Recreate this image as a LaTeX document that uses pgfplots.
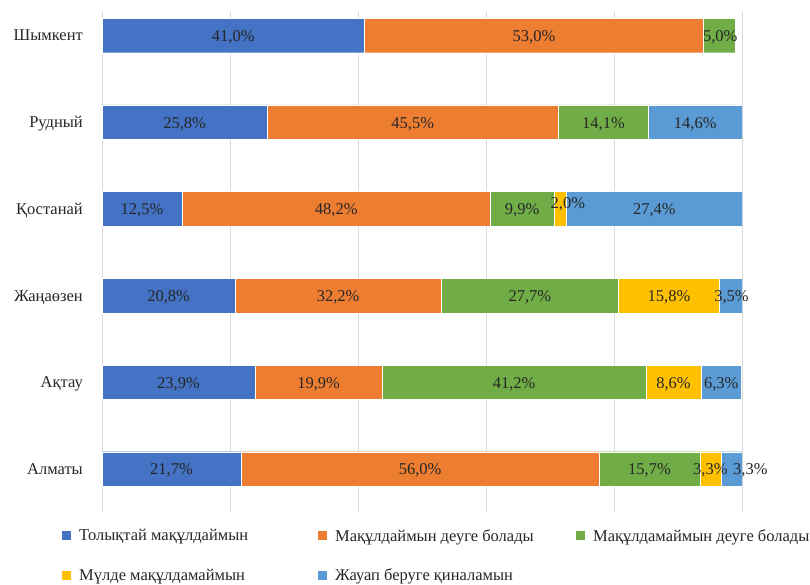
\documentclass[border=0pt]{standalone}
\usepackage{pgfplots}
\pgfplotsset{compat=1.18}
\usepackage{fontspec}
\setmainfont{Liberation Serif}
\definecolor{c1}{HTML}{4472C4}
\definecolor{c2}{HTML}{ED7D31}
\definecolor{c3}{HTML}{70AD47}
\definecolor{c4}{HTML}{FFC000}
\definecolor{c5}{HTML}{5B9BD5}
\definecolor{txt}{HTML}{262626}
\newcommand{\fs}{\fontsize{16.5}{19}\selectfont}
\pgfplotstableread{
y a b c d e
0 21.7 56.0 15.7 3.3 3.3
1 23.9 19.9 41.2 8.6 6.3
2 20.8 32.2 27.7 15.8 3.5
3 12.5 48.2 9.9 2.0 27.4
4 25.8 45.5 14.1 0 14.6
5 41.0 53.0 5.0 0 0
}\data
\pgfplotstableread{
x y v
10.85 0 21.7
49.7 0 56.0
85.55 0 15.7
95.05 0 3.3
101.3 0 3.3
11.95 1 23.9
33.85 1 19.9
64.4 1 41.2
89.3 1 8.6
96.75 1 6.3
10.4 2 20.8
36.9 2 32.2
66.85 2 27.7
88.6 2 15.8
98.36 2 3.5
6.25 3 12.5
36.6 3 48.2
65.65 3 9.9
72.8 3.073 2.0
86.3 3 27.4
12.9 4 25.8
48.55 4 45.5
78.35 4 14.1
92.7 4 14.6
20.5 5 41.0
67.5 5 53.0
96.6 5 5.0
}\labels
\begin{document}
\begin{tikzpicture}
\useasboundingbox (0pt,0pt) rectangle (810pt,585pt);
\begin{axis}[
  at={(102pt,73pt)}, anchor=south west,
  width=640pt, height=500pt, scale only axis,
  xbar stacked, bar width=34.5pt,
  xmin=0, xmax=100, ymin=-0.496, ymax=5.271,
  xtick={0,20,...,100}, xticklabels={},
  xmajorgrids, grid style={draw=black!15, line width=0.8pt},
  major tick length=0pt, axis line style={draw=none},
  ytick={0,...,5},
  yticklabels={Алматы,Ақтау,Жаңаөзен,Қостанай,Рудный,Шымкент},
  yticklabel style={font=\fs, text=txt, inner sep=0pt, anchor=base east, yshift=-5.5pt},
  yticklabel shift=19pt,
  legend columns=3,
  legend cell align=left,
  legend image code/.code={\fill[#1,draw=none] (0pt,-4.5pt) rectangle (9pt,4.5pt);},
  legend style={at={(-0.0625,-0.034)}, anchor=north west, draw=none, fill=none,
    font=\fs, text=txt, inner sep=0pt, row sep=26pt,
    /tikz/every odd column/.append style={column sep=8pt},
    nodes={inner sep=0pt}},
]
\addplot[fill=c1, draw=white, line width=0.4pt] table[x=a,y=y]{\data};
\addlegendentry{\makebox[239pt][l]{Толықтай мақұлдаймын}}
\addplot[fill=c2, draw=white, line width=0.4pt] table[x=b,y=y]{\data};
\addlegendentry{\makebox[241pt][l]{Мақұлдаймын деуге болады}}
\addplot[fill=c3, draw=white, line width=0.4pt] table[x=c,y=y]{\data};
\addlegendentry{Мақұлдамаймын деуге болады}
\addplot[fill=c4, draw=white, line width=0.4pt] table[x=d,y=y]{\data};
\addlegendentry{Мүлде мақұлдамаймын}
\addplot[fill=c5, draw=white, line width=0.4pt] table[x=e,y=y]{\data};
\addlegendentry{Жауап беруге қиналамын}
\end{axis}
\begin{axis}[
  at={(102pt,73pt)}, anchor=south west,
  width=640pt, height=500pt, scale only axis,
  xmin=0, xmax=100, ymin=-0.496, ymax=5.271,
  hide axis, clip=false,
]
\addplot[draw=none, mark=none, nodes near coords={\pgfmathprintnumber[fixed,fixed zerofill,precision=1,use comma,assume math mode=true]{\pgfplotspointmeta}\%},
  point meta=explicit,
  nodes near coords style={anchor=base, yshift=-6pt, font=\fs, text=txt, inner sep=0pt}]
  table[x=x,y=y,meta=v]{\labels};
\end{axis}
\end{tikzpicture}
\end{document}
